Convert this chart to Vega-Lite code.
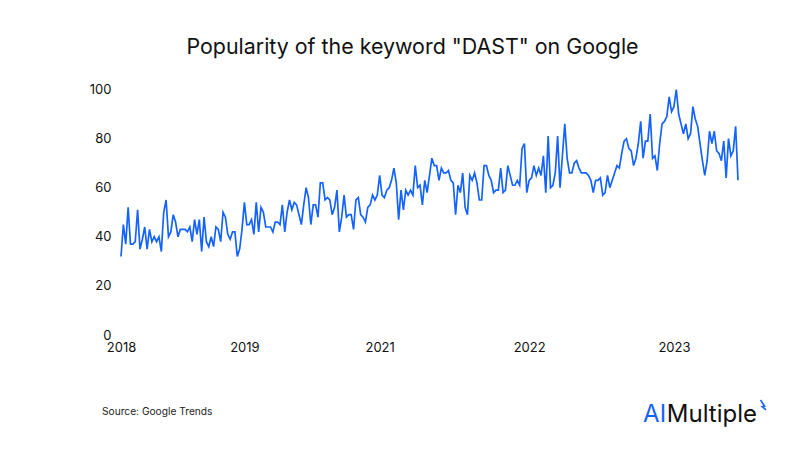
{"$schema":"https://vega.github.io/schema/vega-lite/v6.json","width":617,"height":245.5,"autosize":{"type":"none"},"padding":{"left":121,"top":89.5,"right":62,"bottom":115.5},"background":"white","config":{"view":{"stroke":null},"font":"Inter"},"title":{"text":"Popularity of the keyword \"DAST\" on Google","font":"Inter","fontSize":21.4,"fontWeight":"normal","color":"#111111","anchor":"middle","dx":-17,"offset":25},"layer":[{"data":{"values":[{"w":0,"v":32},{"w":1,"v":45},{"w":2,"v":37},{"w":3,"v":52},{"w":4,"v":37},{"w":5,"v":37},{"w":6,"v":38},{"w":7,"v":51},{"w":8,"v":35},{"w":9,"v":39},{"w":10,"v":44},{"w":11,"v":35},{"w":12,"v":43},{"w":13,"v":38},{"w":14,"v":40},{"w":15,"v":38},{"w":16,"v":40},{"w":17,"v":34},{"w":18,"v":50},{"w":19,"v":55},{"w":20,"v":40},{"w":21,"v":42},{"w":22,"v":49},{"w":23,"v":46},{"w":24,"v":40},{"w":25,"v":43},{"w":26,"v":43},{"w":27,"v":43},{"w":28,"v":42},{"w":29,"v":44},{"w":30,"v":38},{"w":31,"v":47},{"w":32,"v":41},{"w":33,"v":47},{"w":34,"v":34},{"w":35,"v":48},{"w":36,"v":38},{"w":37,"v":36},{"w":38,"v":40},{"w":39,"v":36},{"w":40,"v":44},{"w":41,"v":43},{"w":42,"v":38},{"w":43,"v":50},{"w":44,"v":48},{"w":45,"v":41},{"w":46,"v":39},{"w":47,"v":42},{"w":48,"v":42},{"w":49,"v":32},{"w":50,"v":35},{"w":51,"v":43},{"w":52,"v":54},{"w":53,"v":45},{"w":54,"v":45},{"w":55,"v":47},{"w":56,"v":41},{"w":57,"v":54},{"w":58,"v":42},{"w":59,"v":52},{"w":60,"v":50},{"w":61,"v":44},{"w":62,"v":44},{"w":63,"v":44},{"w":64,"v":42},{"w":65,"v":46},{"w":66,"v":46},{"w":67,"v":45},{"w":68,"v":53},{"w":69,"v":42},{"w":70,"v":50},{"w":71,"v":55},{"w":72,"v":51},{"w":73,"v":54},{"w":74,"v":53},{"w":75,"v":49},{"w":76,"v":45},{"w":77,"v":53},{"w":78,"v":60},{"w":79,"v":56},{"w":80,"v":45},{"w":81,"v":53},{"w":82,"v":53},{"w":83,"v":48},{"w":84,"v":62},{"w":85,"v":62},{"w":86,"v":55},{"w":87,"v":56},{"w":88,"v":55},{"w":89,"v":49},{"w":90,"v":52},{"w":91,"v":59},{"w":92,"v":42},{"w":93,"v":48},{"w":94,"v":57},{"w":95,"v":48},{"w":96,"v":49},{"w":97,"v":49},{"w":98,"v":43},{"w":99,"v":55},{"w":100,"v":56},{"w":101,"v":49},{"w":102,"v":48},{"w":103,"v":46},{"w":104,"v":52},{"w":105,"v":53},{"w":106,"v":57},{"w":107,"v":55},{"w":108,"v":57},{"w":109,"v":65},{"w":110,"v":57},{"w":111,"v":56},{"w":112,"v":59},{"w":113,"v":60},{"w":114,"v":63},{"w":115,"v":68},{"w":116,"v":62},{"w":117,"v":47},{"w":118,"v":59},{"w":119,"v":51},{"w":120,"v":59},{"w":121,"v":57},{"w":122,"v":59},{"w":123,"v":57},{"w":124,"v":69},{"w":125,"v":60},{"w":126,"v":61},{"w":127,"v":53},{"w":128,"v":63},{"w":129,"v":58},{"w":130,"v":65},{"w":131,"v":72},{"w":132,"v":69},{"w":133,"v":69},{"w":134,"v":63},{"w":135,"v":68},{"w":136,"v":66},{"w":137,"v":66},{"w":138,"v":67},{"w":139,"v":63},{"w":140,"v":62},{"w":141,"v":49},{"w":142,"v":61},{"w":143,"v":58},{"w":144,"v":66},{"w":145,"v":52},{"w":146,"v":49},{"w":147,"v":65},{"w":148,"v":63},{"w":149,"v":66},{"w":150,"v":62},{"w":151,"v":55},{"w":152,"v":55},{"w":153,"v":69},{"w":154,"v":69},{"w":155,"v":65},{"w":156,"v":63},{"w":157,"v":58},{"w":158,"v":59},{"w":159,"v":59},{"w":160,"v":68},{"w":161,"v":58},{"w":162,"v":59},{"w":163,"v":69},{"w":164,"v":65},{"w":165,"v":61},{"w":166,"v":61},{"w":167,"v":63},{"w":168,"v":61},{"w":169,"v":76},{"w":170,"v":78},{"w":171,"v":58},{"w":172,"v":63},{"w":173,"v":64},{"w":174,"v":69},{"w":175,"v":65},{"w":176,"v":68},{"w":177,"v":65},{"w":178,"v":73},{"w":179,"v":58},{"w":180,"v":81},{"w":181,"v":60},{"w":182,"v":61},{"w":183,"v":66},{"w":184,"v":81},{"w":185,"v":60},{"w":186,"v":73},{"w":187,"v":86},{"w":188,"v":72},{"w":189,"v":66},{"w":190,"v":66},{"w":191,"v":70},{"w":192,"v":71},{"w":193,"v":68},{"w":194,"v":66},{"w":195,"v":66},{"w":196,"v":66},{"w":197,"v":65},{"w":198,"v":63},{"w":199,"v":58},{"w":200,"v":63},{"w":201,"v":63},{"w":202,"v":64},{"w":203,"v":57},{"w":204,"v":58},{"w":205,"v":65},{"w":206,"v":60},{"w":207,"v":63},{"w":208,"v":66},{"w":209,"v":69},{"w":210,"v":68},{"w":211,"v":74},{"w":212,"v":79},{"w":213,"v":80},{"w":214,"v":76},{"w":215,"v":75},{"w":216,"v":69},{"w":217,"v":72},{"w":218,"v":78},{"w":219,"v":87},{"w":220,"v":72},{"w":221,"v":79},{"w":222,"v":79},{"w":223,"v":90},{"w":224,"v":72},{"w":225,"v":73},{"w":226,"v":67},{"w":227,"v":78},{"w":228,"v":86},{"w":229,"v":87},{"w":230,"v":89},{"w":231,"v":97},{"w":232,"v":91},{"w":233,"v":93},{"w":234,"v":100},{"w":235,"v":90},{"w":236,"v":86},{"w":237,"v":82},{"w":238,"v":86},{"w":239,"v":80},{"w":240,"v":82},{"w":241,"v":93},{"w":242,"v":88},{"w":243,"v":85},{"w":244,"v":78},{"w":245,"v":71},{"w":246,"v":65},{"w":247,"v":71},{"w":248,"v":83},{"w":249,"v":78},{"w":250,"v":83},{"w":251,"v":75},{"w":252,"v":74},{"w":253,"v":71},{"w":254,"v":79},{"w":255,"v":64},{"w":256,"v":80},{"w":257,"v":73},{"w":258,"v":75},{"w":259,"v":85},{"w":260,"v":63}]},"mark":{"type":"line","color":"#1463ff","strokeWidth":1.7,"interpolate":"linear"},"encoding":{"x":{"field":"w","type":"quantitative","scale":{"domain":[0,260],"nice":false,"zero":false},"axis":{"title":null,"grid":false,"domain":false,"ticks":false,"values":[0,52,109,172,233],"labelExpr":"datum.value==0?'2018':datum.value==52?'2019':datum.value==109?'2021':datum.value==172?'2022':'2023'","labelFont":"Inter","labelFontSize":13,"labelColor":"#111111","labelPadding":6,"labelFlush":false,"labelOverlap":false}},"y":{"field":"v","type":"quantitative","scale":{"domain":[0,100],"nice":false},"axis":{"title":null,"grid":false,"domain":false,"ticks":false,"values":[0,20,40,60,80,100],"labelFont":"Inter","labelFontSize":13,"labelColor":"#111111","labelPadding":10}}}},{"data":{"values":[{"a":-8,"b":-32.6,"t":"Source: Google Trends"}]},"mark":{"type":"text","align":"left","baseline":"alphabetic","font":"Inter","fontSize":10.2,"color":"#222222"},"encoding":{"x":{"field":"a","type":"quantitative"},"y":{"field":"b","type":"quantitative"},"text":{"field":"t"}}},{"data":{"values":[{"a":220,"b":-35.3,"t":"AI"}]},"mark":{"type":"text","align":"left","baseline":"alphabetic","font":"Inter","fontSize":24,"color":"#1463ff"},"encoding":{"x":{"field":"a","type":"quantitative"},"y":{"field":"b","type":"quantitative"},"text":{"field":"t"}}},{"data":{"values":[{"a":230,"b":-35.3,"t":"Multiple"}]},"mark":{"type":"text","align":"left","baseline":"alphabetic","font":"Inter","fontSize":24,"color":"#111111"},"encoding":{"x":{"field":"a","type":"quantitative"},"y":{"field":"b","type":"quantitative"},"text":{"field":"t"}}},{"data":{"values":[{"a":269.5,"b":-26.5},{"a":271.2,"b":-29},{"a":270.2,"b":-29.2},{"a":271.8,"b":-30.5}]},"mark":{"type":"line","color":"#1463ff","strokeWidth":1.6},"encoding":{"x":{"field":"a","type":"quantitative"},"y":{"field":"b","type":"quantitative"},"order":{"field":"b","sort":"descending"}}}]}
